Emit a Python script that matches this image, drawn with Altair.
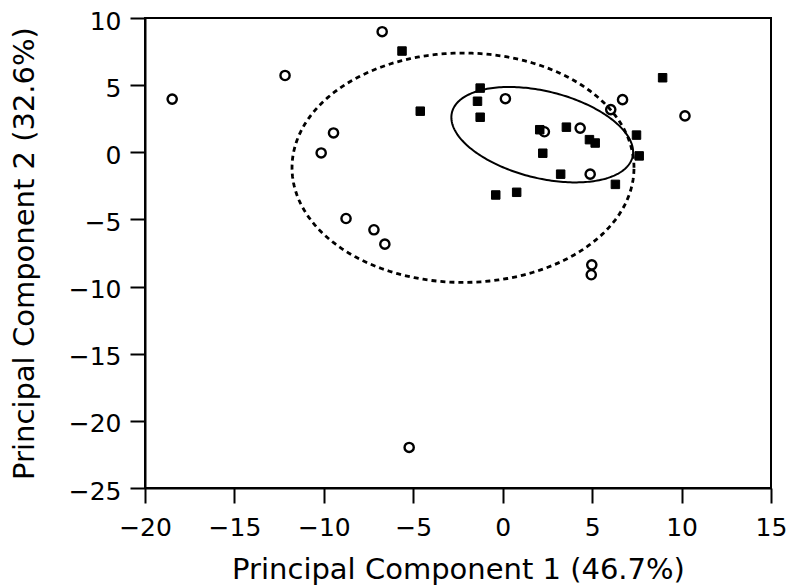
import altair as alt
import numpy as np
import pandas as pd

# Open circles
circle_x = [-18.48, -12.17, -6.74, -9.46, -10.15, -8.76, -7.20, -6.59,
            0.15, 2.33, 4.33, 4.89, 6.04, 6.70, 10.19, 4.98, 4.95, -5.23]
circle_y = [3.96, 5.72, 8.98, 1.44, -0.05, -4.93, -5.77, -6.84,
            3.99, 1.53, 1.80, -1.63, 3.18, 3.92, 2.71, -8.38, -9.12, -21.98]

# Filled squares
square_x = [-5.63, -4.61, -1.26, -1.41, -1.26, 2.07, 3.56, 4.85, 5.17,
            2.24, 3.24, 6.30, -0.39, 0.78, 7.48, 7.63, 8.94]
square_y = [7.54, 3.06, 4.78, 3.80, 2.61, 1.68, 1.87, 0.94, 0.69,
            -0.07, -1.63, -2.39, -3.18, -2.98, 1.28, -0.27, 5.55]

x_ticks = [-20, -15, -10, -5, 0, 5, 10, 15]
y_ticks = [10, 5, 0, -5, -10, -15, -20, -25]

# Confidence ellipses: centre, semi-axes, rotation (degrees)
ellipse_names = ["dashed", "solid"]
ellipse_cx = [-2.22, 2.21]
ellipse_cy = [-1.15, 1.31]
ellipse_a = [9.56, 5.34]
ellipse_b = [8.54, 3.15]
ellipse_angle = [0.0, -22.4]

pts = pd.DataFrame({
    "x": circle_x + square_x,
    "y": circle_y + square_y,
    "group": ["circle"] * len(circle_x) + ["square"] * len(square_x),
})

rows = []
t = np.linspace(0, 2 * np.pi, 241)
for name, cx, cy, a, b, ang in zip(ellipse_names, ellipse_cx, ellipse_cy,
                                   ellipse_a, ellipse_b, ellipse_angle):
    th = np.deg2rad(ang)
    ex = cx + a * np.cos(t) * np.cos(th) - b * np.sin(t) * np.sin(th)
    ey = cy + a * np.cos(t) * np.sin(th) + b * np.sin(t) * np.cos(th)
    for i, (xx, yy) in enumerate(zip(ex, ey)):
        rows.append({"name": name, "i": i, "x": xx, "y": yy})
ell = pd.DataFrame(rows)

xenc = alt.X("x:Q", scale=alt.Scale(domain=[-20, 15], nice=False, zero=False),
             axis=alt.Axis(values=x_ticks, title="Principal Component 1 (46.7%)",
                           labelPadding=12, titleY=90, titleBaseline="alphabetic"))
yenc = alt.Y("y:Q", scale=alt.Scale(domain=[-25, 10], nice=False, zero=False),
             axis=alt.Axis(values=y_ticks, title="Principal Component 2 (32.6%)",
                           labelPadding=9, labelOffset=3, titleX=-112,
                           titleBaseline="alphabetic"))

dashed = alt.Chart(ell).transform_filter(alt.datum.name == "dashed").mark_line(
    stroke="black", strokeWidth=2.8, strokeDash=[5, 4]
).encode(x=xenc, y=yenc, order="i:Q")

solid = alt.Chart(ell).transform_filter(alt.datum.name == "solid").mark_line(
    stroke="black", strokeWidth=2
).encode(x=xenc, y=yenc, order="i:Q")

circles = alt.Chart(pts).transform_filter(alt.datum.group == "circle").mark_point(
    shape="circle", filled=False, stroke="black", strokeWidth=2.4, size=85, opacity=1
).encode(x=xenc, y=yenc)

squares = alt.Chart(pts).transform_filter(alt.datum.group == "square").mark_point(
    shape="square", filled=True, fill="black", stroke="black", strokeWidth=1, size=72, opacity=1
).encode(x=xenc, y=yenc)

chart = alt.layer(dashed, solid, circles, squares).properties(
    width=626, height=470,
    autosize=alt.AutoSizeParams(type="none"),
    padding={"left": 137, "top": 10, "right": 16, "bottom": 100},
).configure_axis(
    grid=False, domainColor="black", domainWidth=2, tickColor="black",
    tickWidth=2, tickSize=15, labelFont="DejaVu Sans", labelFontSize=25,
    labelColor="black", labelFlush=False, labelOverlap=False,
    titleFont="DejaVu Sans", titleFontSize=29, titleFontWeight="normal",
    titleColor="black",
).configure_view(stroke="black", strokeWidth=2)

chart.save("out.html", embed_options={"renderer": "svg", "actions": False})
